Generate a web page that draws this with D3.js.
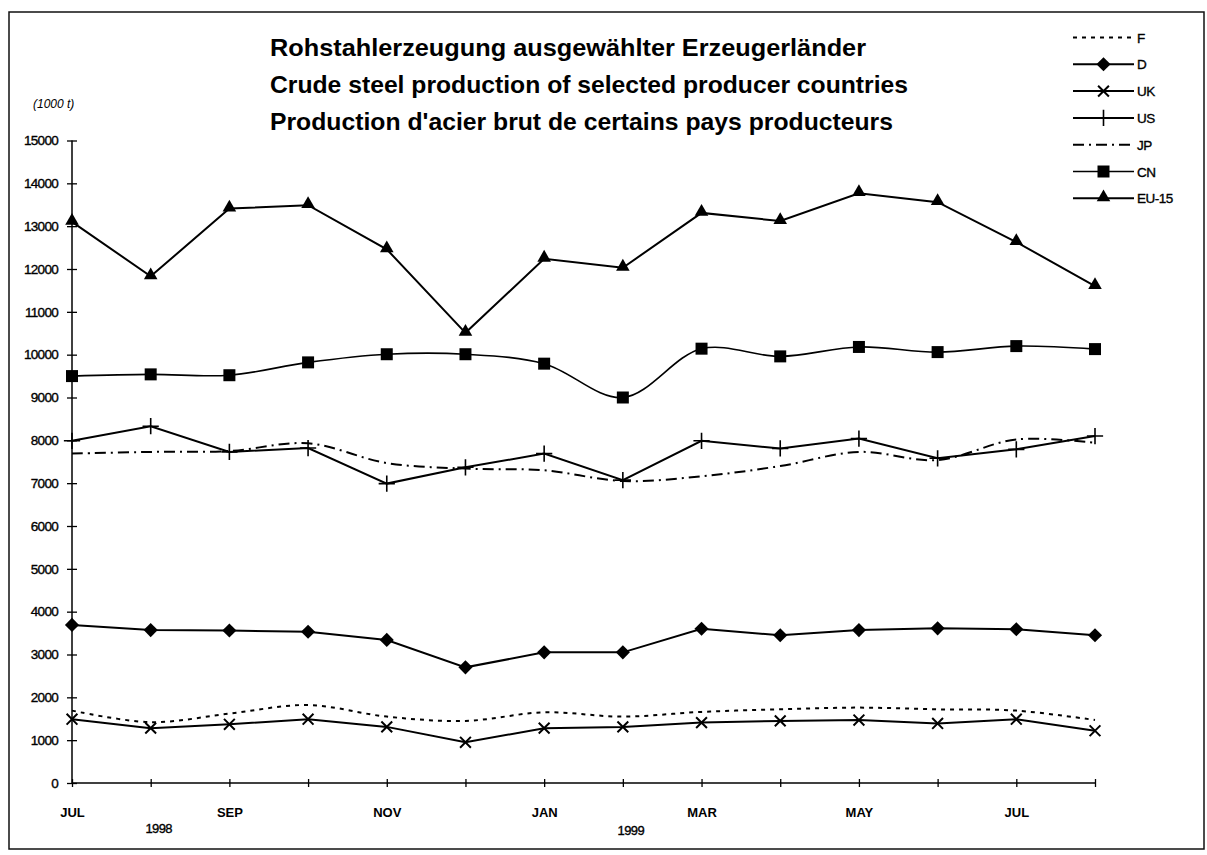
<!DOCTYPE html>
<html>
<head>
<meta charset="utf-8">
<script src="https://cdn.jsdelivr.net/npm/d3@7"></script>
<style>
  body { margin: 0; background: #fff; }
  svg text { font-family: "Liberation Sans", Arial, sans-serif; fill: #000; }
  svg .small { stroke: #000; stroke-width: 0.35px; }
</style>
</head>
<body>
<script>
'use strict';

// months on the x axis (Jul 1998 .. Aug 1999)
const months = ["Jul98", "Aug98", "Sep98", "Oct98", "Nov98", "Dec98", "Jan99",
                "Feb99", "Mar99", "Apr99", "May99", "Jun99", "Jul99", "Aug99"];
const monthLabels = ["JUL", "", "SEP", "", "NOV", "", "JAN", "", "MAR", "", "MAY", "", "JUL", ""];
const years = ["1998", "1999"];
const yearMonths = ["Aug98", "Feb99"];
const yTicks = [0, 1000, 2000, 3000, 4000, 5000, 6000, 7000, 8000,
                9000, 10000, 11000, 12000, 13000, 14000, 15000];

const titleLines = [
  "Rohstahlerzeugung ausgewählter Erzeugerländer",
  "Crude steel production of selected producer countries",
  "Production d'acier brut de certains pays producteurs"
];
const unitLabel = "(1000 t)";

// series values, 1000 t
const seriesNames = ["F", "D", "UK", "US", "JP", "CN", "EU-15"];
const valuesF  = [1690, 1420, 1620, 1820, 1550, 1450, 1650, 1550, 1660, 1720, 1760, 1720, 1690, 1470];
const valuesD  = [3690, 3570, 3560, 3530, 3340, 2700, 3050, 3050, 3600, 3450, 3570, 3610, 3590, 3450];
const valuesUK = [1490, 1280, 1370, 1490, 1310, 950, 1280, 1310, 1410, 1450, 1470, 1390, 1490, 1220];
const valuesUS = [7990, 8330, 7730, 7820, 6990, 7370, 7690, 7070, 7990, 7810, 8040, 7580, 7790, 8100];
const valuesJP = [7690, 7730, 7750, 7930, 7470, 7340, 7300, 7050, 7160, 7400, 7730, 7540, 8020, 7940];
const valuesCN = [9500, 9540, 9520, 9820, 10010, 10010, 9790, 9000, 10140, 9960, 10180, 10060, 10200, 10130];
const valuesEU = [13100, 11830, 13410, 13490, 12460, 10510, 12240, 12030, 13310, 13120, 13770, 13560, 12630, 11600];

const seriesValues = [valuesF, valuesD, valuesUK, valuesUS, valuesJP, valuesCN, valuesEU];

// how each series is drawn
const styles = {
  "F":     { dash: "4,5", marker: null, smooth: true, width: 2 },
  "D":     { dash: null, marker: "diamond", smooth: false, width: 2 },
  "UK":    { dash: null, marker: "times", smooth: false, width: 2 },
  "US":    { dash: null, marker: "plus", smooth: false, width: 2 },
  "JP":    { dash: "11,5,2,5", marker: null, smooth: true, width: 2 },
  "CN":    { dash: null, marker: "square", smooth: true, width: 1.6 },
  "EU-15": { dash: null, marker: "triangle", smooth: false, width: 2 }
};

const svg = d3.select('body')
  .append('svg')
  .attr('width', 1207)
  .attr('height', 855);

// outer frame
svg.append('rect')
  .attr('x', 9).attr('y', 12)
  .attr('width', 1195).attr('height', 837)
  .attr('fill', 'none')
  .attr('stroke', '#111')
  .attr('stroke-width', 1.5);

// scales
const x = d3.scalePoint().domain(months).range([72, 1095]);
const y = d3.scaleLinear().domain([0, 15000]).range([783, 140.5]);

// y axis
const yAxis = d3.axisLeft(y)
  .tickValues(yTicks)
  .tickFormat(d3.format('d'))
  .tickSize(5)
  .tickPadding(9);
const yg = svg.append('g')
  .attr('transform', 'translate(72,0)')
  .call(yAxis);
yg.select('.domain').attr('d', 'M0,' + y(15000) + 'V' + y(0)).attr('stroke-width', 1.5);
yg.selectAll('.tick line').attr('x1', 5).attr('x2', -5).attr('stroke-width', 1.3);
yg.selectAll('.tick text')
  .attr('class', 'small')
  .style('font-size', '13.5px')
  .style('letter-spacing', '-0.7px')
  .attr('fill', '#000');

// x axis
const xAxis = d3.axisBottom(x)
  .tickFormat((d, i) => monthLabels[i])
  .tickSize(4)
  .tickPadding(0);
const xg = svg.append('g')
  .attr('transform', 'translate(0,783)')
  .call(xAxis);
xg.select('.domain').attr('d', 'M72,0H1095').attr('stroke-width', 1.5);
xg.selectAll('.tick line').attr('y1', -4).attr('y2', 4).attr('stroke-width', 1.3);
xg.selectAll('.tick text')
  .attr('y', 34)
  .attr('dy', null)
  .style('font-size', '13px')
  .style('font-weight', 'bold')
  .attr('fill', '#000');

// year labels under the months
svg.selectAll('.year')
  .data(years)
  .enter()
  .append('text')
  .attr('class', 'year small')
  .attr('x', (d, i) => x(yearMonths[i]) + 8)
  .attr('y', (d, i) => 833 + i * 2)
  .attr('text-anchor', 'middle')
  .style('font-size', '13px')
  .style('letter-spacing', '-0.6px')
  .text(d => d);

// unit label
svg.append('text')
  .attr('x', 33)
  .attr('y', 108)
  .style('font-size', '12px')
  .style('font-style', 'italic')
  .text(unitLabel);

// title
const titleWidths = [596, 638, 623];
svg.selectAll('.title')
  .data(titleLines)
  .enter()
  .append('text')
  .attr('class', 'title')
  .attr('x', 270)
  .attr('y', (d, i) => 56 + i * 37)
  .attr('textLength', (d, i) => titleWidths[i])
  .attr('lengthAdjust', 'spacingAndGlyphs')
  .style('font-size', '24px')
  .style('font-weight', 'bold')
  .text(d => d);

// marker drawing
function drawMarker(g, type, cx, cy) {
  if (type === 'diamond') {
    g.append('path')
      .attr('d', d3.symbol(d3.symbolSquare, 100)())
      .attr('transform', 'translate(' + cx + ',' + cy + ') rotate(45)')
      .attr('fill', '#000');
  } else if (type === 'square') {
    g.append('path')
      .attr('d', d3.symbol(d3.symbolSquare, 144)())
      .attr('transform', 'translate(' + cx + ',' + cy + ')')
      .attr('fill', '#000');
  } else if (type === 'triangle') {
    g.append('path')
      .attr('d', d3.symbol(d3.symbolTriangle, 80)())
      .attr('transform', 'translate(' + cx + ',' + (cy - 1) + ')')
      .attr('fill', '#000');
  } else if (type === 'times') {
    g.append('path')
      .attr('d', d3.symbol(d3.symbolTimes, 78)())
      .attr('transform', 'translate(' + cx + ',' + cy + ')')
      .attr('fill', 'none')
      .attr('stroke', '#000')
      .attr('stroke-width', 2);
  } else if (type === 'plus') {
    g.append('path')
      .attr('d', d3.symbol(d3.symbolPlus, 88)())
      .attr('transform', 'translate(' + cx + ',' + cy + ')')
      .attr('fill', 'none')
      .attr('stroke', '#000')
      .attr('stroke-width', 1.6);
  }
}

// lines and markers
seriesNames.forEach((name, si) => {
  const st = styles[name];
  const vals = seriesValues[si];
  const line = d3.line()
    .x((d, i) => x(months[i]))
    .y(d => y(d))
    .curve(st.smooth ? d3.curveCatmullRom.alpha(0.5) : d3.curveLinear);

  const g = svg.append('g').attr('class', 'series');
  g.append('path')
    .datum(vals)
    .attr('d', line)
    .attr('fill', 'none')
    .attr('stroke', '#000')
    .attr('stroke-width', st.width)
    .attr('stroke-dasharray', st.dash);

  if (st.marker) {
    vals.forEach((v, i) => drawMarker(g, st.marker, x(months[i]), y(v)));
  }
});

// legend
const legend = svg.append('g').attr('class', 'legend');
seriesNames.forEach((name, i) => {
  const st = styles[name];
  const ly = 37.5 + i * 26.8;
  const row = legend.append('g');
  row.append('line')
    .attr('x1', 1073).attr('x2', 1134)
    .attr('y1', ly).attr('y2', ly)
    .attr('stroke', '#000')
    .attr('stroke-width', st.width)
    .attr('stroke-dasharray', st.dash);
  if (st.marker) drawMarker(row, st.marker, 1103.5, ly);
  row.append('text')
    .attr('class', 'small')
    .attr('x', 1137)
    .attr('y', ly + 5)
    .style('font-size', '13.5px')
    .style('letter-spacing', '-0.5px')
    .text(name);
});
</script>
</body>
</html>
